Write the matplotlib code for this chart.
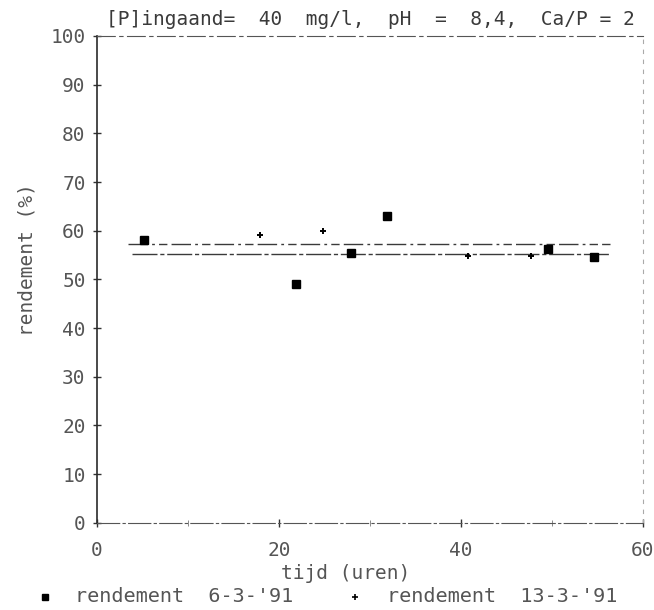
import matplotlib
matplotlib.use("Agg")
import matplotlib.pyplot as plt
from matplotlib.lines import Line2D

# data
tijd_6 = [5.2, 21.9, 27.9, 31.9, 49.6, 54.6]
rend_6 = [58.0, 49.0, 55.5, 63.0, 56.3, 54.6]

tijd_13 = [17.9, 24.8, 40.8, 47.7]
rend_13 = [59.1, 60.0, 54.8, 54.8]

# horizontal reference lines (mean levels) and their extent
gem_levels = [57.3, 55.2]
gem_start = 3.4
gem_end = 56.4

title = "[P]ingaand=  40  mg/l,  pH  =  8,4,  Ca/P = 2"
xlabel = "tijd (uren)"
ylabel = "rendement (%)"
legend_labels = ["rendement  6-3-'91", "rendement  13-3-'91"]
x_ticks = [0, 20, 40, 60]
y_ticks = list(range(0, 101, 10))

txt = "#555555"
plt.rcParams["font.family"] = ["DejaVu Sans Mono"]

fig = plt.figure(figsize=(6.54, 6.10), dpi=100)
ax = fig.add_axes([0.148, 0.143, 0.835, 0.798])

# the two horizontal lines
ax.hlines(gem_levels[0], gem_start, gem_end, colors="#3a3a3a", lw=1.0,
          linestyles=(0, (14, 3, 2, 3, 6, 3)))
ax.hlines(gem_levels[1], gem_start + 0.5, gem_end, colors="#3a3a3a", lw=1.0,
          linestyles=(0, (18, 2, 3, 2)))

ax.plot(tijd_6, rend_6, ls="none", marker="s", ms=6, color="black")
ax.plot(tijd_13, rend_13, ls="none", marker="+", ms=5, mew=1.4, color="black")

ax.set_xlim(0, 60)
ax.set_ylim(0, 100)
ax.set_xticks(x_ticks)
ax.set_xticks(range(0, 61, 10), minor=True)
ax.set_yticks(y_ticks)

ax.tick_params(axis="both", which="major", direction="inout", length=6,
               width=1, colors="#333333", labelcolor=txt, labelsize=14)
ax.tick_params(axis="x", which="major", pad=10)
ax.tick_params(axis="y", which="major", pad=5)
ax.tick_params(axis="x", which="minor", direction="inout", length=4, color="#777777")

ax.spines["left"].set_color("#2a2a2a")
ax.spines["left"].set_linewidth(1.2)
ax.spines["bottom"].set_color("#555555")
ax.spines["bottom"].set_linestyle((0, (20, 3, 2, 3)))
ax.spines["top"].set_color("#555555")
ax.spines["top"].set_linestyle((0, (16, 4, 3, 4)))
ax.spines["right"].set_color("#aaaaaa")
ax.spines["right"].set_linestyle((0, (3, 6)))

ax.set_xlabel(xlabel, fontsize=14, color=txt)
ax.xaxis.set_label_coords(0.456, -0.084)
ax.set_ylabel(ylabel, fontsize=14, color=txt)
ax.yaxis.set_label_coords(-0.11, 0.54)
ax.text(0.016, 1.014, title, transform=ax.transAxes, fontsize=14,
        color="#3a3a3a", ha="left", va="bottom")

# legend row under the x label, placed by hand
leg_y = 1 - 597 / 610
fig.add_artist(Line2D([45 / 654], [leg_y], transform=fig.transFigure,
                      ls="none", marker="s", ms=4, color="black"))
fig.text(75 / 654, leg_y, legend_labels[0], fontsize=14.5, color=txt,
         ha="left", va="center")
fig.add_artist(Line2D([355 / 654], [leg_y], transform=fig.transFigure,
                      ls="none", marker="+", ms=4, mew=1.2, color="black"))
fig.text(387 / 654, leg_y, legend_labels[1], fontsize=14.5, color=txt,
         ha="left", va="center")

fig.savefig("out.png", dpi=100)
